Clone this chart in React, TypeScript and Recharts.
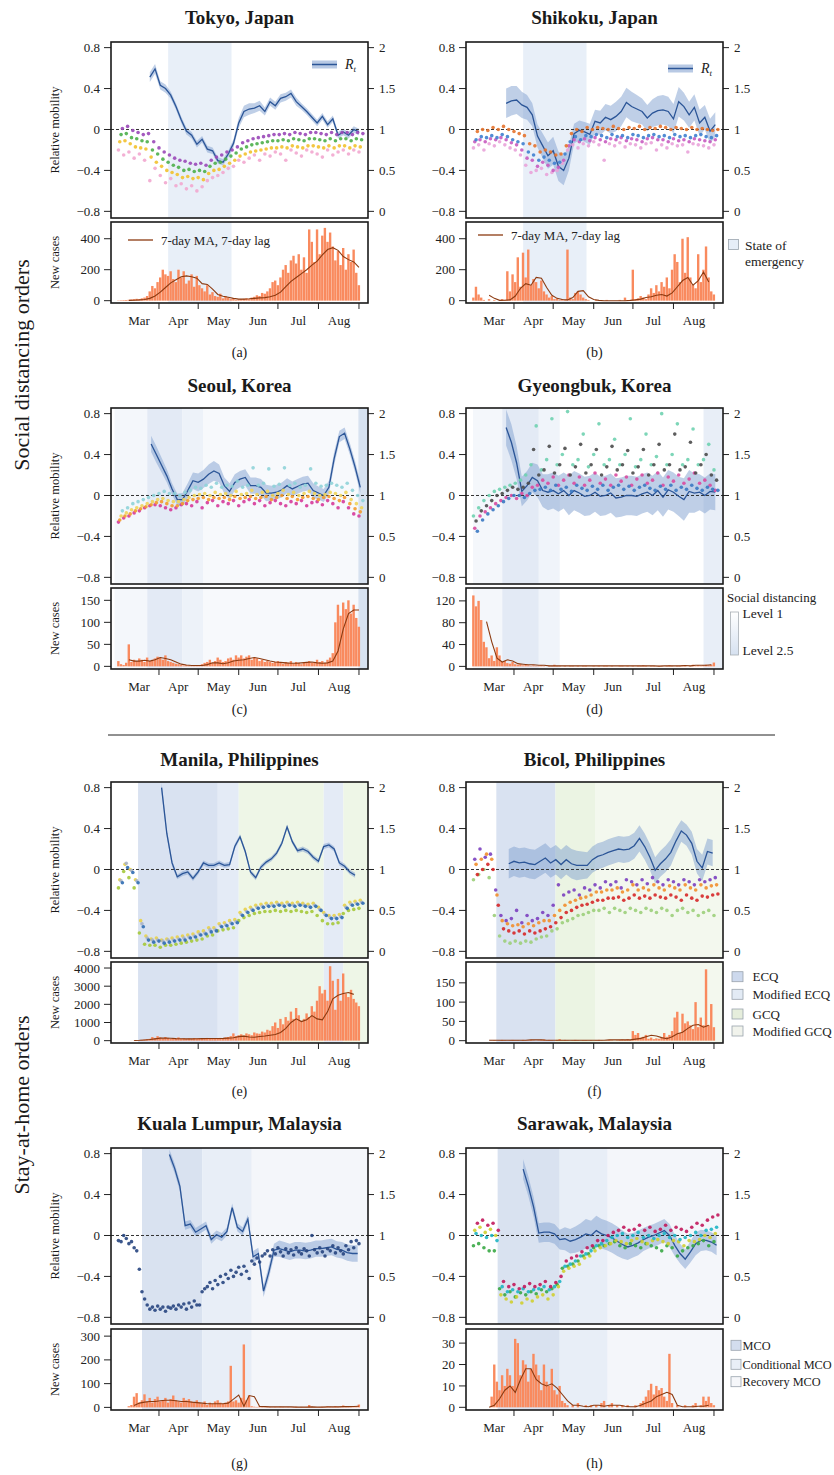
import React from 'react';
import { ComposedChart, Scatter, Line, Area, Bar, XAxis, YAxis, ReferenceArea, ReferenceLine } from 'recharts';

// day 0 = 1 March 2020
const FONT = '"Liberation Serif", "DejaVu Serif", serif';
const X_DOMAIN: [number, number] = [-5.7, 190.9];
const M_DOMAIN: [number, number] = [-0.865, 0.855];
const RT_DOMAIN: [number, number] = [-0.08125, 2.06875];
const MONTH_TICKS = [31, 61, 92, 122, 153, 184];
const MONTH_NAMES = ['Mar', 'Apr', 'May', 'Jun', 'Jul', 'Aug'];
const MOB_TICKS = [-0.8, -0.4, 0, 0.4, 0.8];
const RT_TICKS = [0, 0.5, 1, 1.5, 2];

// ---------- Tokyo ----------
const tokyoRt = [1.64,1.74,1.54,1.50,1.42,1.28,1.12,0.98,0.93,0.82,0.88,0.76,0.74,0.62,0.60,0.70,0.83,1.08,1.22,1.25,1.26,1.29,1.22,1.34,1.29,1.38,1.40,1.44,1.34,1.28,1.22,1.15,1.08,1.16,1.06,1.13,0.93,0.97,0.93,1.00,0.97];
const tokyoRtHw = [.06,.06,.05,.05,.04,.04,.04,.04,.04,.04,.04,.04,.04,.04,.04,.04,.05,.06,.07,.07,.06,.06,.05,.05,.05,.05,.05,.05,.05,.04,.04,.04,.04,.04,.04,.04,.04,.04,.04,.04,.04];
const tokyoMobA = [0.01,0.03,-0.01,-0.03,-0.05,-0.04,-0.12,-0.18,-0.22,-0.25,-0.28,-0.30,-0.31,-0.33,-0.34,-0.33,-0.35,-0.30,-0.27,-0.25,-0.22,-0.20,-0.17,-0.13,-0.11,-0.09,-0.08,-0.07,-0.06,-0.05,-0.05,-0.04,-0.05,-0.03,-0.04,-0.05,-0.03,-0.03,-0.04,-0.05,-0.03,-0.05,-0.03,-0.03,-0.05,-0.03,-0.04];
const tokyoMobB = [-0.05,-0.04,-0.08,-0.09,-0.11,-0.12,-0.2,-0.24,-0.29,-0.32,-0.35,-0.37,-0.40,-0.39,-0.41,-0.40,-0.41,-0.36,-0.33,-0.32,-0.29,-0.26,-0.23,-0.19,-0.17,-0.15,-0.14,-0.13,-0.12,-0.11,-0.11,-0.10,-0.11,-0.09,-0.10,-0.11,-0.09,-0.09,-0.10,-0.11,-0.09,-0.11,-0.09,-0.09,-0.11,-0.09,-0.10];
const tokyoMobC = [-0.12,-0.11,-0.14,-0.17,-0.18,-0.19,-0.27,-0.32,-0.36,-0.40,-0.42,-0.44,-0.47,-0.46,-0.48,-0.47,-0.49,-0.43,-0.40,-0.39,-0.36,-0.33,-0.30,-0.26,-0.24,-0.22,-0.21,-0.20,-0.19,-0.18,-0.18,-0.17,-0.18,-0.16,-0.17,-0.18,-0.16,-0.16,-0.17,-0.18,-0.16,-0.18,-0.16,-0.16,-0.18,-0.16,-0.17];
const tokyoMobD = [-0.2,-0.25,-0.22,-0.28,-0.24,-0.3,-0.5,-0.38,-0.45,-0.52,-0.48,-0.55,-0.53,-0.58,-0.55,-0.6,-0.56,-0.5,-0.47,-0.45,-0.42,-0.38,-0.36,-0.3,-0.32,-0.28,-0.25,-0.3,-0.24,-0.26,-0.22,-0.24,-0.3,-0.2,-0.23,-0.26,-0.2,-0.22,-0.24,-0.27,-0.2,-0.25,-0.22,-0.2,-0.24,-0.2,-0.22];
const tokyoCases = [2,3,4,5,6,8,10,12,10,15,20,30,60,95,80,120,150,200,170,160,190,140,120,200,150,190,110,130,170,90,160,100,80,60,100,40,55,30,25,45,15,30,20,10,15,5,8,10,12,15,10,20,25,35,30,50,45,60,80,120,130,100,150,200,230,180,260,290,240,300,200,280,180,460,380,250,460,300,420,470,380,440,350,260,320,230,340,200,300,250,330,180,100];
const tokyoMa = [2,3,5,8,15,30,55,85,115,135,155,160,155,145,110,105,75,40,28,22,15,10,10,12,15,18,20,25,35,55,90,125,150,175,200,230,255,295,330,342,325,285,265,250,215];

// ---------- Shikoku ----------
const shikokuRt = [1.32,1.35,1.36,1.30,1.27,1.18,0.92,0.80,0.68,0.74,0.55,0.50,0.65,0.95,0.99,0.97,0.94,1.10,1.08,1.15,1.12,1.16,1.22,1.33,1.28,1.25,1.22,1.14,1.20,1.23,1.24,1.22,1.13,1.34,1.28,1.18,1.27,1.08,1.15,0.98,1.06];
const shikokuRtHw = [.18,.18,.17,.16,.15,.14,.14,.15,.16,.17,.18,.18,.15,.12,.12,.12,.13,.14,.15,.16,.17,.18,.18,.18,.18,.17,.16,.16,.17,.18,.18,.18,.18,.18,.17,.16,.16,.16,.15,.15,.15];
const shikokuMobA = [-0.02,0.0,-0.01,0.02,0.0,0.03,0.0,-0.02,-0.04,-0.06,-0.14,-0.16,-0.22,-0.2,-0.22,-0.25,-0.24,-0.16,-0.04,0.0,-0.02,0.02,0.0,0.02,0.01,0.0,0.03,0.01,0.0,0.02,0.01,0.03,0.0,0.02,0.01,0.03,0.02,0.0,0.02,0.01,0.0,0.02,0.0,0.01,0.0,-0.01,0.0];
const shikokuMobB = [-0.1,-0.07,-0.08,-0.06,-0.08,-0.05,-0.07,-0.1,-0.12,-0.14,-0.22,-0.25,-0.3,-0.27,-0.3,-0.33,-0.32,-0.24,-0.12,-0.07,-0.1,-0.06,-0.07,-0.05,-0.06,-0.08,-0.05,-0.07,-0.06,-0.08,-0.05,-0.06,-0.08,-0.06,-0.05,-0.07,-0.06,-0.08,-0.05,-0.07,-0.06,-0.08,-0.06,-0.05,-0.07,-0.08,-0.06];
const shikokuMobC = [-0.12,-0.1,-0.12,-0.09,-0.1,-0.08,-0.1,-0.13,-0.15,-0.2,-0.28,-0.3,-0.36,-0.32,-0.35,-0.4,-0.37,-0.3,-0.16,-0.1,-0.12,-0.09,-0.11,-0.08,-0.1,-0.12,-0.09,-0.1,-0.08,-0.11,-0.09,-0.1,-0.12,-0.09,-0.08,-0.1,-0.1,-0.12,-0.09,-0.11,-0.1,-0.12,-0.09,-0.1,-0.11,-0.12,-0.1];
const shikokuMobD = [-0.18,-0.15,-0.2,-0.14,-0.16,-0.12,-0.15,-0.18,-0.2,-0.25,-0.35,-0.42,-0.4,-0.38,-0.44,-0.42,-0.4,-0.33,-0.2,-0.15,-0.18,-0.14,-0.16,-0.12,-0.15,-0.3,-0.14,-0.16,-0.13,-0.17,-0.14,-0.15,-0.18,-0.14,-0.13,-0.2,-0.15,-0.18,-0.14,-0.16,-0.15,-0.22,-0.14,-0.15,-0.16,-0.18,-0.15];
const shikokuCases = [20,90,40,20,5,0,10,0,5,0,0,10,5,190,60,170,120,280,90,310,150,330,100,140,120,80,130,60,40,20,30,10,15,5,10,5,330,20,10,50,60,40,20,10,5,0,0,5,0,0,0,5,0,0,0,0,5,0,20,0,5,200,10,15,30,20,10,40,80,50,100,60,120,90,150,80,200,300,250,120,400,180,410,150,100,80,300,120,200,350,150,60,40];
const shikokuMa = [35,15,2,3,5,30,80,110,100,150,145,85,35,15,8,5,20,60,65,25,8,2,0,0,0,0,0,2,5,10,20,25,35,40,30,50,90,130,150,100,130,185,120];

// ---------- Seoul ----------
const seoulRt = [1.63,1.50,1.37,1.24,1.08,0.95,0.95,1.06,1.18,1.16,1.20,1.26,1.30,1.27,1.12,1.05,1.16,1.20,1.22,1.12,1.12,1.10,1.03,1.03,1.04,1.07,1.12,1.08,1.11,1.14,1.15,1.06,1.03,1.00,1.10,1.45,1.72,1.76,1.57,1.35,1.10];
const seoulRtHw = [.1,.1,.09,.08,.07,.07,.08,.09,.1,.11,.11,.12,.12,.11,.1,.1,.1,.1,.1,.1,.1,.1,.1,.09,.09,.09,.09,.09,.09,.09,.09,.09,.08,.08,.08,.08,.07,.07,.07,.07,.07];
const seoulMobA = [-0.15,-0.12,-0.08,-0.06,-0.04,-0.02,0.0,0.02,0.04,0.02,0.02,0.0,0.03,0.05,0.08,0.07,0.1,0.08,0.12,0.08,0.1,0.09,0.14,0.08,0.1,0.27,0.1,0.12,0.26,0.09,0.11,0.27,0.1,0.12,0.08,0.1,0.26,0.12,0.09,0.1,0.12,0.1,0.08,0.12,0.05,0.0,-0.05];
const seoulMobB = [-0.2,-0.17,-0.14,-0.12,-0.1,-0.08,-0.06,-0.04,-0.03,-0.05,-0.06,-0.06,-0.04,-0.02,0.0,0.01,0.02,0.0,0.03,0.01,0.02,0.0,0.04,0.01,0.02,0.05,0.01,0.03,0.04,0.0,0.02,0.05,0.01,0.03,0.0,0.02,0.04,0.02,0.0,0.01,0.03,0.02,0.0,0.03,-0.04,-0.08,-0.12];
const seoulMobC = [-0.24,-0.2,-0.18,-0.15,-0.13,-0.11,-0.09,-0.07,-0.06,-0.08,-0.1,-0.1,-0.08,-0.05,-0.04,-0.03,-0.02,-0.04,-0.02,-0.03,-0.02,-0.04,-0.01,-0.03,-0.02,-0.01,-0.03,-0.02,-0.01,-0.04,-0.02,0.0,-0.03,-0.01,-0.04,-0.02,-0.01,-0.03,-0.04,-0.02,-0.01,-0.03,-0.05,-0.02,-0.08,-0.13,-0.16];
const seoulMobD = [-0.26,-0.22,-0.2,-0.17,-0.15,-0.12,-0.1,-0.09,-0.1,-0.12,-0.14,-0.12,-0.09,-0.08,-0.1,-0.06,-0.12,-0.07,-0.05,-0.1,-0.06,-0.08,-0.05,-0.1,-0.06,-0.04,-0.08,-0.05,-0.1,-0.07,-0.05,-0.08,-0.1,-0.06,-0.08,-0.05,-0.1,-0.07,-0.06,-0.09,-0.05,-0.08,-0.12,-0.06,-0.12,-0.18,-0.2];
const seoulCases = [12,5,3,8,50,10,15,12,18,15,10,20,12,15,18,22,20,15,25,12,10,8,6,5,3,2,3,2,1,2,3,2,5,8,10,15,8,12,20,15,10,12,18,20,15,25,20,25,18,22,25,15,20,18,12,15,10,12,10,8,10,12,8,6,10,8,12,6,10,8,5,8,10,12,8,10,15,10,12,8,15,20,30,100,140,115,145,130,150,120,140,110,90];
const seoulMa = [15,12,12,14,12,15,20,18,15,10,5,3,2,2,2,4,8,8,6,8,12,14,15,18,20,18,15,12,10,9,8,7,7,8,9,10,8,7,8,12,35,85,120,128,128];

// ---------- Gyeongbuk ----------
const gyeongbukRt = [1.83,1.65,1.40,1.05,1.12,1.22,1.18,1.06,1.04,1.06,1.02,1.06,1.00,1.06,1.03,0.99,1.00,1.04,0.99,1.00,1.03,0.97,0.98,1.00,1.00,0.99,1.02,1.04,1.00,1.06,0.98,1.07,1.04,0.99,0.95,1.05,1.03,1.04,1.00,1.05,1.04];
const gyeongbukRtHw = [.22,.22,.2,.18,.18,.18,.2,.2,.22,.22,.22,.22,.24,.24,.24,.24,.24,.24,.24,.24,.24,.24,.24,.24,.24,.24,.24,.24,.24,.24,.24,.24,.24,.24,.26,.26,.24,.22,.22,.22,.22];
const gyeongbukMobA = [-0.25,-0.15,-0.1,-0.05,0.0,0.02,0.05,0.08,0.06,0.08,0.12,0.45,0.2,0.25,0.48,0.22,0.3,0.46,0.2,0.28,0.5,0.22,0.3,0.45,0.2,0.28,0.48,0.25,0.3,0.44,0.22,0.28,0.45,0.2,0.3,0.5,0.25,0.3,0.6,0.25,0.28,0.52,0.22,0.3,0.4,0.2,0.15];
const gyeongbukMobB = [-0.2,-0.12,-0.05,0.0,0.04,0.06,0.08,0.1,0.12,0.15,0.2,0.3,0.68,0.25,0.35,0.75,0.3,0.4,0.82,0.3,0.35,0.6,0.28,0.4,0.7,0.3,0.35,0.55,0.3,0.4,0.75,0.28,0.35,0.6,0.3,0.38,0.8,0.3,0.4,0.7,0.3,0.35,0.65,0.3,0.35,0.5,0.25];
const gyeongbukMobC = [-0.35,-0.24,-0.18,-0.14,-0.1,-0.06,-0.03,0.0,0.0,-0.02,0.02,0.05,0.06,0.08,0.05,0.1,0.06,0.08,0.04,0.1,0.07,0.05,0.09,0.06,0.1,0.05,0.08,0.1,0.06,0.09,0.05,0.08,0.1,0.07,0.05,0.09,0.06,0.1,0.05,0.08,0.06,0.1,0.07,0.05,0.08,0.06,0.05];
const gyeongbukMobD = [-0.32,-0.2,-0.16,-0.12,-0.08,-0.05,-0.02,0.0,-0.03,0.02,0.0,0.08,0.1,0.15,0.12,0.18,0.1,0.15,0.2,0.12,0.18,0.1,0.15,0.22,0.12,0.16,0.1,0.2,0.14,0.18,0.1,0.16,0.2,0.12,0.15,0.22,0.1,0.18,0.14,0.2,0.12,0.16,0.22,0.12,0.15,0.1,0.05];
const gyeongbukCases = [130,110,120,85,45,35,15,20,10,35,20,8,10,6,5,8,4,3,4,2,3,2,1,2,1,1,2,1,0,1,1,3,1,1,0,1,0,1,1,0,1,0,1,1,0,0,1,0,1,0,1,1,0,1,0,0,1,1,0,1,0,1,0,1,1,2,1,0,1,1,0,1,1,0,1,2,1,0,1,1,2,1,0,1,3,1,2,1,2,3,2,3,7];
const gyeongbukMa = [82,45,15,8,12,10,5,4,3,3,2,2,1,1,1,1,1,1,1,1,1,1,1,1,1,1,1,1,1,1,1,1,1,0.5,1,1,1,1,1.5,1,2,2,2,3];

// ---------- Manila ----------
const manilaRt = [2.0,1.44,1.08,0.91,0.95,0.97,0.89,0.97,1.08,1.05,1.05,1.08,1.05,1.06,1.28,1.40,1.22,0.97,0.90,1.03,1.09,1.13,1.20,1.32,1.52,1.34,1.23,1.25,1.22,1.15,1.10,1.28,1.30,1.25,1.08,1.04,0.97,0.93];
const manilaRtHw = [.06,.05,.04,.03,.03,.03,.03,.03,.03,.03,.03,.03,.03,.03,.03,.03,.03,.03,.03,.03,.03,.03,.03,.03,.03,.03,.03,.03,.03,.03,.03,.03,.03,.03,.03,.03,.03,.03];
const manilaMobA = [-0.1,0.05,0.0,-0.1,-0.5,-0.65,-0.68,-0.67,-0.69,-0.68,-0.67,-0.66,-0.65,-0.64,-0.63,-0.61,-0.6,-0.57,-0.57,-0.53,-0.52,-0.5,-0.49,-0.42,-0.39,-0.37,-0.35,-0.34,-0.33,-0.33,-0.32,-0.33,-0.32,-0.33,-0.32,-0.33,-0.34,-0.33,-0.37,-0.42,-0.45,-0.45,-0.44,-0.35,-0.32,-0.31,-0.3];
const manilaMobB = [-0.13,0.02,-0.03,-0.13,-0.56,-0.69,-0.71,-0.7,-0.72,-0.71,-0.7,-0.69,-0.69,-0.67,-0.66,-0.64,-0.63,-0.61,-0.6,-0.56,-0.55,-0.53,-0.52,-0.45,-0.42,-0.4,-0.38,-0.37,-0.36,-0.36,-0.35,-0.36,-0.35,-0.36,-0.35,-0.36,-0.37,-0.36,-0.4,-0.45,-0.48,-0.48,-0.47,-0.38,-0.35,-0.34,-0.33];
const manilaMobC = [-0.18,-0.02,-0.08,-0.18,-0.62,-0.73,-0.74,-0.74,-0.76,-0.74,-0.74,-0.73,-0.72,-0.71,-0.7,-0.69,-0.68,-0.65,-0.64,-0.6,-0.59,-0.58,-0.57,-0.5,-0.47,-0.45,-0.43,-0.42,-0.41,-0.41,-0.4,-0.41,-0.4,-0.41,-0.4,-0.41,-0.42,-0.41,-0.45,-0.5,-0.53,-0.53,-0.52,-0.43,-0.4,-0.39,-0.38];
const manilaMobD = [-0.11,0.06,-0.01,-0.11,-0.53,-0.67,-0.69,-0.69,-0.7,-0.69,-0.69,-0.68,-0.67,-0.66,-0.65,-0.63,-0.62,-0.59,-0.59,-0.55,-0.54,-0.52,-0.51,-0.44,-0.41,-0.39,-0.37,-0.36,-0.35,-0.35,-0.34,-0.35,-0.34,-0.35,-0.34,-0.35,-0.36,-0.35,-0.39,-0.44,-0.47,-0.47,-0.46,-0.37,-0.34,-0.33,-0.32];
const manilaCases = [0,0,0,0,0,5,10,20,30,40,60,80,100,200,150,250,180,120,200,150,100,150,120,180,100,130,90,120,100,140,110,120,90,110,150,100,130,120,100,150,130,180,200,250,400,250,300,350,280,400,350,300,450,400,380,500,450,600,550,800,1000,700,1200,900,1300,1100,1600,1200,1800,1400,1100,1200,1500,1300,1900,1600,2200,3000,2600,2800,2200,4100,3300,1700,3400,2200,3700,2600,2400,2800,2300,2100,1900];
const manilaMa = [10,20,40,60,100,140,150,130,110,105,100,100,105,110,115,120,120,125,140,160,220,250,200,190,230,260,300,340,450,680,1000,1200,1050,1150,1380,1200,1150,1600,2300,2500,2600,2650,2550];

// ---------- Bicol ----------
const bicolRt = [1.07,1.10,1.08,1.09,1.07,1.06,1.10,1.14,1.08,1.12,1.06,1.12,1.07,1.05,1.05,1.05,1.12,1.16,1.18,1.21,1.23,1.25,1.24,1.25,1.29,1.38,1.28,1.15,0.99,1.07,1.13,1.21,1.35,1.47,1.42,1.32,1.10,1.02,1.22,1.20];
const bicolRtHw = [.18,.18,.18,.18,.18,.18,.18,.18,.18,.18,.18,.18,.18,.18,.17,.16,.16,.16,.16,.16,.16,.16,.16,.16,.16,.16,.16,.16,.16,.16,.16,.16,.15,.13,.13,.14,.15,.16,.16,.16];
const bicolMobA = [0.05,0.1,0.15,0.1,-0.25,-0.5,-0.53,-0.55,-0.54,-0.56,-0.53,-0.55,-0.52,-0.5,-0.5,-0.45,-0.4,-0.35,-0.32,-0.3,-0.28,-0.27,-0.25,-0.22,-0.22,-0.2,-0.2,-0.18,-0.22,-0.2,-0.15,-0.2,-0.18,-0.2,-0.15,-0.18,-0.2,-0.16,-0.18,-0.2,-0.15,-0.18,-0.2,-0.15,-0.18,-0.16,-0.15];
const bicolMobB = [-0.05,0.0,0.05,0.0,-0.35,-0.58,-0.6,-0.62,-0.6,-0.63,-0.6,-0.62,-0.6,-0.58,-0.56,-0.52,-0.47,-0.42,-0.4,-0.37,-0.35,-0.34,-0.32,-0.3,-0.3,-0.28,-0.28,-0.27,-0.3,-0.28,-0.25,-0.28,-0.26,-0.28,-0.25,-0.27,-0.28,-0.25,-0.27,-0.3,-0.25,-0.28,-0.3,-0.26,-0.27,-0.25,-0.24];
const bicolMobC = [0.1,0.2,0.12,0.15,-0.2,-0.45,-0.5,-0.48,-0.4,-0.52,-0.45,-0.5,-0.48,-0.42,-0.45,-0.35,-0.15,-0.25,-0.22,-0.2,-0.25,-0.18,-0.2,-0.15,-0.18,-0.12,-0.15,-0.12,-0.18,-0.1,-0.12,-0.15,-0.1,-0.14,-0.08,-0.12,-0.15,-0.1,-0.12,-0.15,-0.1,-0.12,-0.15,-0.1,-0.12,-0.1,-0.08];
const bicolMobD = [-0.1,-0.05,0.0,-0.08,-0.45,-0.65,-0.7,-0.72,-0.7,-0.72,-0.7,-0.71,-0.68,-0.66,-0.65,-0.6,-0.58,-0.52,-0.5,-0.48,-0.45,-0.44,-0.42,-0.4,-0.4,-0.38,-0.42,-0.38,-0.4,-0.42,-0.38,-0.4,-0.42,-0.38,-0.4,-0.42,-0.38,-0.4,-0.45,-0.4,-0.38,-0.42,-0.4,-0.45,-0.42,-0.4,-0.45];
const bicolCases = [0,0,0,0,0,0,0,0,1,0,1,2,1,0,1,2,1,1,0,2,1,1,2,1,0,1,2,3,1,2,1,0,2,4,1,2,1,0,1,2,1,0,1,1,0,1,0,1,2,1,0,1,2,1,0,1,2,3,2,4,2,25,15,20,8,10,15,5,8,4,6,5,8,20,10,15,25,60,75,20,70,45,50,40,30,100,35,60,40,185,40,95,35];
const bicolMa = [1,1,1,1,1,1,1,1,2,2,2,1,1,1,1,1,1,1,1,1,1,1,1,2,2,2,2,2,4,6,10,14,12,8,5,10,18,22,32,40,42,35,40];

// ---------- Kuala Lumpur ----------
const klRt = [1.99,1.82,1.60,1.12,1.14,1.04,1.08,1.12,0.95,1.01,0.98,1.05,1.34,1.10,1.05,1.20,0.74,0.78,0.32,0.55,0.82,0.84,0.82,0.80,0.82,0.82,0.81,0.82,0.84,0.84,0.85,0.86,0.83,0.82,0.79,0.78,0.78];
const klRtHw = [.06,.06,.06,.05,.05,.05,.05,.05,.05,.05,.05,.05,.05,.05,.05,.05,.07,.07,.07,.08,.08,.1,.1,.1,.1,.1,.1,.1,.1,.1,.1,.1,.1,.1,.1,.1,.1];
const klMob = [-0.05,-0.06,0.0,-0.03,-0.08,-0.06,-0.12,-0.15,-0.33,-0.55,-0.62,-0.68,-0.72,-0.7,-0.73,-0.69,-0.72,-0.7,-0.74,-0.7,-0.71,-0.69,-0.72,-0.68,-0.7,-0.67,-0.72,-0.66,-0.7,-0.64,-0.68,-0.68,-0.55,-0.52,-0.5,-0.46,-0.52,-0.44,-0.48,-0.4,-0.46,-0.38,-0.42,-0.34,-0.4,-0.36,-0.31,-0.38,-0.3,-0.35,-0.42,-0.25,-0.28,-0.22,-0.26,-0.2,-0.18,-0.15,-0.2,-0.14,-0.18,-0.12,-0.16,-0.2,-0.13,-0.17,-0.14,-0.19,-0.12,-0.16,-0.18,-0.13,-0.15,-0.2,0.0,-0.14,-0.17,-0.12,-0.16,-0.2,-0.13,-0.15,-0.1,-0.17,-0.12,-0.15,-0.18,-0.1,-0.14,-0.06,-0.12,-0.05,-0.08];
const klCases = [0,0,0,0,5,10,45,60,20,30,55,25,40,20,35,45,25,30,40,20,35,50,30,25,20,40,30,35,25,20,30,20,15,25,10,20,15,25,30,20,15,20,25,175,25,30,20,40,265,30,50,5,3,2,4,2,1,3,2,1,2,1,3,2,1,2,1,2,3,1,2,1,2,10,3,2,1,2,3,2,4,3,2,5,3,2,8,3,2,4,3,5,12];
const klMa = [8,18,22,25,25,28,30,30,28,25,25,22,20,18,15,15,15,15,18,35,52,5,50,45,4,3,2,2,2,2,2,1,1,1,2,1,1,2,2,2,3,3,4,5];

// ---------- Sarawak ----------
const sarawakRt = [1.81,1.60,1.35,1.03,1.04,1.04,1.02,0.95,0.96,0.93,0.95,0.98,1.02,1.00,1.06,1.02,1.00,0.97,0.93,0.89,0.86,0.88,0.91,0.95,0.98,1.00,1.03,1.06,1.00,0.88,0.78,0.71,0.80,0.90,0.94,0.94,0.92,0.88];
const sarawakRtHw = [.12,.12,.12,.12,.12,.12,.12,.12,.14,.15,.16,.17,.18,.18,.18,.18,.18,.18,.18,.17,.16,.15,.15,.14,.14,.14,.14,.14,.14,.13,.12,.12,.13,.14,.13,.12,.12,.12];
const sarawakMobA = [0.12,0.15,0.1,0.12,0.05,-0.45,-0.5,-0.48,-0.52,-0.5,-0.47,-0.5,-0.48,-0.45,-0.5,-0.46,-0.4,-0.25,-0.22,-0.2,-0.16,-0.12,-0.1,-0.05,-0.05,0.0,0.03,0.05,0.08,0.05,0.06,0.1,0.05,0.08,0.04,0.06,0.1,0.05,0.08,0.06,0.04,0.08,0.12,0.1,0.15,0.18,0.2];
const sarawakMobB = [0.02,0.0,-0.02,0.0,-0.05,-0.5,-0.55,-0.53,-0.55,-0.52,-0.55,-0.53,-0.52,-0.5,-0.53,-0.5,-0.45,-0.3,-0.28,-0.25,-0.2,-0.18,-0.15,-0.1,-0.08,-0.05,-0.02,0.0,0.02,-0.02,0.0,0.03,-0.02,0.0,-0.03,0.0,0.02,-0.02,0.0,-0.04,-0.02,0.0,0.03,0.0,0.05,0.06,0.08];
const sarawakMobC = [0.05,0.08,0.03,0.06,0.0,-0.58,-0.62,-0.65,-0.6,-0.66,-0.62,-0.64,-0.6,-0.58,-0.62,-0.58,-0.5,-0.35,-0.32,-0.3,-0.28,-0.22,-0.2,-0.15,-0.12,-0.1,-0.08,-0.05,-0.06,-0.08,-0.05,-0.03,-0.06,-0.08,-0.05,-0.04,-0.06,-0.08,-0.05,-0.06,-0.1,-0.05,-0.06,-0.04,0.0,-0.02,0.02];
const sarawakMobD = [-0.1,-0.08,-0.12,-0.15,-0.15,-0.52,-0.58,-0.55,-0.6,-0.56,-0.58,-0.55,-0.57,-0.53,-0.55,-0.52,-0.48,-0.32,-0.3,-0.28,-0.25,-0.2,-0.18,-0.12,-0.1,-0.1,-0.08,-0.06,-0.1,-0.12,-0.08,-0.1,-0.12,-0.08,-0.1,-0.12,-0.15,-0.1,-0.12,-0.2,-0.15,-0.12,-0.1,-0.08,-0.05,-0.1,-0.06];
const sarawakCases = [0,0,0,0,0,0,0,5,20,12,8,15,10,18,15,10,32,30,15,22,20,12,18,25,20,15,8,20,12,10,18,8,6,10,3,2,1,0,1,0,2,0,0,1,0,1,0,1,0,2,3,0,1,2,0,1,0,1,0,1,0,0,1,0,2,3,5,8,11,6,10,8,9,5,3,25,2,0,1,0,0,1,0,0,1,2,0,1,5,3,5,2,1];
const sarawakMa = [0,1,4,8,10,7,13,18,18,13,11,10,11,9,6,3,1,1,0.5,0.3,1,1,0.5,1,1,1,0.5,0.3,0.3,1,2,3,5,6,7,6,1,0.3,0.3,0.3,0.5,0.5,1];

// policy periods (days since 1 Mar)
const tokyoShades = [{ x1: 38, x2: 86.5, fill: '#e8eff8' }];
const shikokuShades = [{ x1: 38, x2: 86.5, fill: '#e8eff8' }];
const seoulShades = [
  { x1: -3, x2: 22, fill: '#f4f7fb' }, { x1: 22, x2: 49, fill: '#e3eaf5' },
  { x1: 49, x2: 65, fill: '#edf2f9' }, { x1: 65, x2: 183.5, fill: '#f7f9fc' }, { x1: 183.5, x2: 190.9, fill: '#d7e2f0' },
];
const gyeongbukShades = [
  { x1: -0.3, x2: 22, fill: '#f4f7fb' }, { x1: 22, x2: 50, fill: '#e3eaf5' },
  { x1: 50, x2: 66, fill: '#f0f4fa' }, { x1: 176, x2: 190.9, fill: '#e8eef7' },
];
const manilaShades = [
  { x1: 15, x2: 76, fill: '#d9e2f1' }, { x1: 76, x2: 92, fill: '#e4ebf6' }, { x1: 92, x2: 157, fill: '#eef6e7' },
  { x1: 157, x2: 172, fill: '#e4ebf6' }, { x1: 172, x2: 190.9, fill: '#eef6e7' },
];
const bicolShades = [
  { x1: 17.5, x2: 62.7, fill: '#d9e2f1' }, { x1: 62.7, x2: 93, fill: '#ebf4e3' }, { x1: 93, x2: 190.9, fill: '#f3f8ee' },
];
const klShades = [
  { x1: 18, x2: 64, fill: '#d9e2f0' }, { x1: 64, x2: 102, fill: '#e8eef7' }, { x1: 102, x2: 190.9, fill: '#f4f6fa' },
];
const sarawakShades = [
  { x1: 18.5, x2: 66, fill: '#d9e2f0' }, { x1: 66, x2: 102.7, fill: '#e8eef7' }, { x1: 102.7, x2: 190.9, fill: '#f4f6fa' },
];

type Shade = { x1: number; x2: number; fill: string };
type Panel = {
  title: string; letter: string; col: number; row: number;
  rt: number[]; rtHw: number[]; rtStart: number;
  mob: number[][]; mobColors: string[]; mobStep: number;
  cases: number[]; ma: number[]; maStart: number;
  caseDomain: [number, number]; caseTicks: number[]; shades: Shade[];
};

const panels: Panel[] = [
  { title: 'Tokyo, Japan', letter: '(a)', col: 0, row: 0, rt: tokyoRt, rtHw: tokyoRtHw, rtStart: 24,
    mob: [tokyoMobD, tokyoMobC, tokyoMobB, tokyoMobA], mobColors: ['#f2a7cf', '#f2c12e', '#4daf4a', '#9a48b8'], mobStep: 4,
    cases: tokyoCases, ma: tokyoMa, maStart: 8, caseDomain: [-15, 508], caseTicks: [0, 200, 400], shades: tokyoShades },
  { title: 'Shikoku, Japan', letter: '(b)', col: 1, row: 0, rt: shikokuRt, rtHw: shikokuRtHw, rtStart: 25,
    mob: [shikokuMobD, shikokuMobC, shikokuMobB, shikokuMobA], mobColors: ['#e9a3d9', '#c85bc0', '#3f7fcf', '#e5732e'], mobStep: 4,
    cases: shikokuCases, ma: shikokuMa, maStart: 12, caseDomain: [-15, 508], caseTicks: [0, 200, 400], shades: shikokuShades },
  { title: 'Seoul, Korea', letter: '(c)', col: 0, row: 1, rt: seoulRt, rtHw: seoulRtHw, rtStart: 25,
    mob: [seoulMobD, seoulMobC, seoulMobB, seoulMobA], mobColors: ['#d63a9a', '#f39a2c', '#f0d45a', '#8fd3d8'], mobStep: 4,
    cases: seoulCases, ma: seoulMa, maStart: 8, caseDomain: [-6, 178], caseTicks: [0, 50, 100, 150], shades: seoulShades },
  { title: 'Gyeongbuk, Korea', letter: '(d)', col: 1, row: 1, rt: gyeongbukRt, rtHw: gyeongbukRtHw, rtStart: 25,
    mob: [gyeongbukMobB, gyeongbukMobD, gyeongbukMobA, gyeongbukMobC], mobColors: ['#6fd1b0', '#d94aa0', '#4b4b4b', '#3a78c2'], mobStep: 4,
    cases: gyeongbukCases, ma: gyeongbukMa, maStart: 10, caseDomain: [-4.8, 143.6], caseTicks: [0, 40, 80, 120], shades: gyeongbukShades },
  { title: 'Manila, Philippines', letter: '(e)', col: 0, row: 2, rt: manilaRt, rtHw: manilaRtHw, rtStart: 33,
    mob: [manilaMobC, manilaMobA, manilaMobD, manilaMobB], mobColors: ['#a5c93a', '#e8d24a', '#a8b3c6', '#2f6db3'], mobStep: 4,
    cases: manilaCases, ma: manilaMa, maStart: 12, caseDomain: [-129, 4332], caseTicks: [0, 1000, 2000, 3000, 4000], shades: manilaShades },
  { title: 'Bicol, Philippines', letter: '(f)', col: 1, row: 2, rt: bicolRt, rtHw: bicolRtHw, rtStart: 27,
    mob: [bicolMobD, bicolMobC, bicolMobA, bicolMobB], mobColors: ['#9ccf7a', '#7b3fbf', '#f28e2b', '#d62728'], mobStep: 4,
    cases: bicolCases, ma: bicolMa, maStart: 12, caseDomain: [-6, 204], caseTicks: [0, 50, 100, 150], shades: bicolShades },
  { title: 'Kuala Lumpur, Malaysia', letter: '(g)', col: 0, row: 3, rt: klRt, rtHw: klRtHw, rtStart: 39,
    mob: [klMob], mobColors: ['#27457f'], mobStep: 2,
    cases: klCases, ma: klMa, maStart: 12, caseDomain: [-11, 330], caseTicks: [0, 100, 200, 300], shades: klShades },
  { title: 'Sarawak, Malaysia', letter: '(h)', col: 1, row: 3, rt: sarawakRt, rtHw: sarawakRtHw, rtStart: 38,
    mob: [sarawakMobD, sarawakMobC, sarawakMobB, sarawakMobA], mobColors: ['#3aa845', '#cfcf30', '#1fb5c4', '#c2185b'], mobStep: 4,
    cases: sarawakCases, ma: sarawakMa, maStart: 12, caseDomain: [-1.25, 36.6], caseTicks: [0, 10, 20, 30], shades: sarawakShades },
];

// layout
const PLOT_LEFT = [111, 466];
const PW = 257;
const LW = 50;
const RW = 40;
const PAD = 9;
const UPPER_TOP = [42, 408, 782, 1148];
const UH = 176;
const LOWER_TOP = [222, 588, 962, 1329];
const LH = 81;
const TITLE_Y = [24, 392, 766, 1130];
const LETTER_Y = [357, 714, 1096, 1468];

const RT_COLOR = '#2b5597';
const BAND_COLOR = '#7f9fcf';
const CASE_COLOR = '#f98a5e';
const MA_COLOR = '#8c3a10';

const fmtMob = (v: number) => (v === 0 ? '0' : v < 0 ? '\u2212' + Math.abs(v) : String(v));
const tickStyle = { fontFamily: FONT, fontSize: 13, fill: '#222' };

const MonthTick = (props: any) => {
  const { x, y, payload } = props;
  const i = MONTH_TICKS.indexOf(payload.value);
  return (
    <text x={x - 20} y={y + 16} textAnchor="middle" fontFamily={FONT} fontSize={13} fill="#222">
      {MONTH_NAMES[i]}
    </text>
  );
};

const Upper = ({ p }: { p: Panel }) => {
  const rows = p.rt.map((v, i) => ({ d: p.rtStart + i * 4, rt: v, band: [v - p.rtHw[i], v + p.rtHw[i]] }));
  return (
    <ComposedChart width={LW + PW + RW} height={UH + 2 * PAD} data={rows} margin={{ top: PAD, right: 0, bottom: PAD, left: 0 }}>
      <XAxis type="number" dataKey="d" domain={X_DOMAIN} hide allowDataOverflow />
      <YAxis yAxisId="m" type="number" domain={M_DOMAIN} ticks={MOB_TICKS} width={LW} allowDataOverflow
        axisLine={false} tickSize={7} tickMargin={4} tickLine={{ stroke: '#222' }} tick={tickStyle} tickFormatter={fmtMob} interval={0} />
      <YAxis yAxisId="rt" orientation="right" type="number" domain={RT_DOMAIN} ticks={RT_TICKS} width={RW} allowDataOverflow
        axisLine={false} tickSize={6} tickMargin={5} tickLine={{ stroke: '#222' }} tick={tickStyle} interval={0} />
      {p.shades.map((s, i) => (
        <ReferenceArea key={`s${i}`} yAxisId="m" x1={s.x1} x2={s.x2} y1={M_DOMAIN[0]} y2={M_DOMAIN[1]}
          fill={s.fill} fillOpacity={1} stroke="none" ifOverflow="hidden" />
      ))}
      <Area yAxisId="rt" dataKey="band" stroke="none" fill={BAND_COLOR} fillOpacity={0.5} isAnimationActive={false} />
      {p.mob.map((vals, k) => (
        <Scatter key={`m${k}`} yAxisId="m" dataKey="m" isAnimationActive={false}
          data={vals.map((m, i) => ({ d: k + i * p.mobStep, m }))}
          fill={p.mobColors[k]}
          shape={(sp: any) => <circle cx={sp.cx} cy={sp.cy} r={1.8} fill={p.mobColors[k]} fillOpacity={0.9} />} />
      ))}
      <ReferenceLine yAxisId="m" y={0} stroke="#333" strokeDasharray="3 2" strokeWidth={1} />
      <Line yAxisId="rt" dataKey="rt" stroke={RT_COLOR} strokeWidth={1.3} dot={false} isAnimationActive={false} />
    </ComposedChart>
  );
};

const Lower = ({ p }: { p: Panel }) => {
  const rows = p.cases.map((c, i) => ({ d: i * 2, c }));
  const maRows = p.ma.map((ma, i) => ({ d: p.maStart + i * 4, ma }));
  return (
    <ComposedChart width={LW + PW + RW} height={LH + 30 + PAD} data={rows} margin={{ top: PAD, right: RW, bottom: 0, left: 0 }}>
      <XAxis type="number" dataKey="d" domain={X_DOMAIN} ticks={MONTH_TICKS} interval={0} allowDataOverflow height={30}
        axisLine={false} tickSize={6} tickMargin={0} tickLine={{ stroke: '#222' }} tick={<MonthTick />} />
      <YAxis type="number" domain={p.caseDomain} ticks={p.caseTicks} width={LW} allowDataOverflow interval={0}
        axisLine={false} tickSize={7} tickMargin={4} tickLine={{ stroke: '#222' }} tick={tickStyle} />
      {p.shades.map((s, i) => (
        <ReferenceArea key={`s${i}`} x1={s.x1} x2={s.x2} y1={p.caseDomain[0]} y2={p.caseDomain[1]}
          fill={s.fill} fillOpacity={1} stroke="none" ifOverflow="hidden" />
      ))}
      <Bar dataKey="c" fill={CASE_COLOR} barSize={2.4} isAnimationActive={false} />
      <Line data={maRows} dataKey="ma" stroke={MA_COLOR} strokeWidth={1.1} dot={false} isAnimationActive={false} />
    </ComposedChart>
  );
};

const Legends = () => (
  <g fontFamily={FONT} fill="#222">
    {/* R_t legends */}
    <rect x={312} y={60.5} width={25} height={8} fill="#b8c9e4" />
    <line x1={312} x2={337} y1={64.5} y2={64.5} stroke={RT_COLOR} strokeWidth={1.5} />
    <text x={345} y={69} fontSize={14} fontStyle="italic">R<tspan fontSize={9} dy={3}>t</tspan></text>
    <rect x={668} y={64.5} width={25} height={8} fill="#b8c9e4" />
    <line x1={668} x2={693} y1={68.5} y2={68.5} stroke={RT_COLOR} strokeWidth={1.5} />
    <text x={701} y={73} fontSize={14} fontStyle="italic">R<tspan fontSize={9} dy={3}>t</tspan></text>
    {/* MA legends */}
    <line x1={128} x2={153} y1={240} y2={240} stroke={MA_COLOR} strokeWidth={1.3} />
    <text x={161} y={244.5} fontSize={13}>7-day MA, 7-day lag</text>
    <line x1={478} x2={503} y1={235} y2={235} stroke={MA_COLOR} strokeWidth={1.3} />
    <text x={511} y={239.5} fontSize={13}>7-day MA, 7-day lag</text>
    {/* state of emergency */}
    <rect x={728.5} y={239.5} width={10} height={10} fill="#e6eef8" stroke="#9aa3ad" strokeWidth={0.8} />
    <text x={745} y={249.5} fontSize={13.5}>State of</text>
    <text x={745} y={265.5} fontSize={13.5}>emergency</text>
    {/* social distancing */}
    <defs>
      <linearGradient id="sdGrad" x1="0" y1="0" x2="0" y2="1">
        <stop offset="0" stopColor="#ffffff" />
        <stop offset="1" stopColor="#d6e1f0" />
      </linearGradient>
    </defs>
    <text x={727} y={602} fontSize={13}>Social distancing</text>
    <rect x={730.5} y={612} width={8} height={43} fill="url(#sdGrad)" stroke="#a8aeb5" strokeWidth={0.8} />
    <text x={742.5} y={618} fontSize={13.5}>Level 1</text>
    <text x={742.5} y={655} fontSize={13.5}>Level 2.5</text>
    {/* ECQ */}
    {[
      { y: 976.7, fill: '#cdd9ed', label: 'ECQ' },
      { y: 994.3, fill: '#e3ebf5', label: 'Modified ECQ' },
      { y: 1014, fill: '#e6eedc', label: 'GCQ' },
      { y: 1031, fill: '#f1f3ec', label: 'Modified GCQ' },
    ].map((e) => (
      <g key={e.label}>
        <rect x={732} y={e.y - 5} width={11} height={10} fill={e.fill} stroke="#9aa3ad" strokeWidth={0.8} />
        <text x={752.5} y={e.y + 4.5} fontSize={13}>{e.label}</text>
      </g>
    ))}
    {/* MCO */}
    {[
      { y: 1345.3, fill: '#d3ddee', label: 'MCO' },
      { y: 1364.3, fill: '#e8eef7', label: 'Conditional MCO' },
      { y: 1381.7, fill: '#f6f7fa', label: 'Recovery MCO' },
    ].map((e) => (
      <g key={e.label}>
        <rect x={731} y={e.y - 5} width={10} height={10} fill={e.fill} stroke="#9aa3ad" strokeWidth={0.8} />
        <text x={742.5} y={e.y + 4.5} fontSize={12.3}>{e.label}</text>
      </g>
    ))}
  </g>
);

const App = () => (
  <div style={{ position: 'absolute', left: 0, top: 0, width: 834, height: 1475, background: '#fff', overflow: 'hidden' }}>
    {panels.map((p) => (
      <React.Fragment key={p.letter}>
        <div style={{ position: 'absolute', left: PLOT_LEFT[p.col] - LW, top: UPPER_TOP[p.row] - PAD }}>
          <Upper p={p} />
        </div>
        <div style={{ position: 'absolute', left: PLOT_LEFT[p.col] - LW, top: LOWER_TOP[p.row] - PAD }}>
          <Lower p={p} />
        </div>
      </React.Fragment>
    ))}
    <svg width={834} height={1475} style={{ position: 'absolute', left: 0, top: 0, pointerEvents: 'none' }}>
      {panels.map((p) => {
        const cx = PLOT_LEFT[p.col] + PW / 2;
        return (
          <g key={p.letter} fontFamily={FONT} fill="#1a1a1a">
            <rect x={PLOT_LEFT[p.col]} y={UPPER_TOP[p.row]} width={PW} height={UH} fill="none" stroke="#1a1a1a" strokeWidth={1.6} />
            <rect x={PLOT_LEFT[p.col]} y={LOWER_TOP[p.row]} width={PW} height={LH} fill="none" stroke="#1a1a1a" strokeWidth={1.6} />
            <text x={cx} y={TITLE_Y[p.row]} textAnchor="middle" fontSize={19} fontWeight="bold">{p.title}</text>
            <text x={cx} y={LETTER_Y[p.row]} textAnchor="middle" fontSize={14}>{p.letter}</text>
            {p.col === 0 && (
              <>
                <text transform={`translate(59 ${UPPER_TOP[p.row] + UH / 2}) rotate(-90)`} textAnchor="middle" fontSize={12.5}>Relative mobility</text>
                <text transform={`translate(59 ${LOWER_TOP[p.row] + LH / 2}) rotate(-90)`} textAnchor="middle" fontSize={12.5}>New cases</text>
              </>
            )}
          </g>
        );
      })}
      <text transform="translate(29 365) rotate(-90)" textAnchor="middle" fontFamily={FONT} fontSize={22} fill="#1a1a1a">Social distancing orders</text>
      <text transform="translate(29 1105) rotate(-90)" textAnchor="middle" fontFamily={FONT} fontSize={22} fill="#1a1a1a">Stay-at-home orders</text>
      <line x1={108} x2={775} y1={735} y2={735} stroke="#222" strokeWidth={1} />
      <Legends />
    </svg>
  </div>
);

export default App;
